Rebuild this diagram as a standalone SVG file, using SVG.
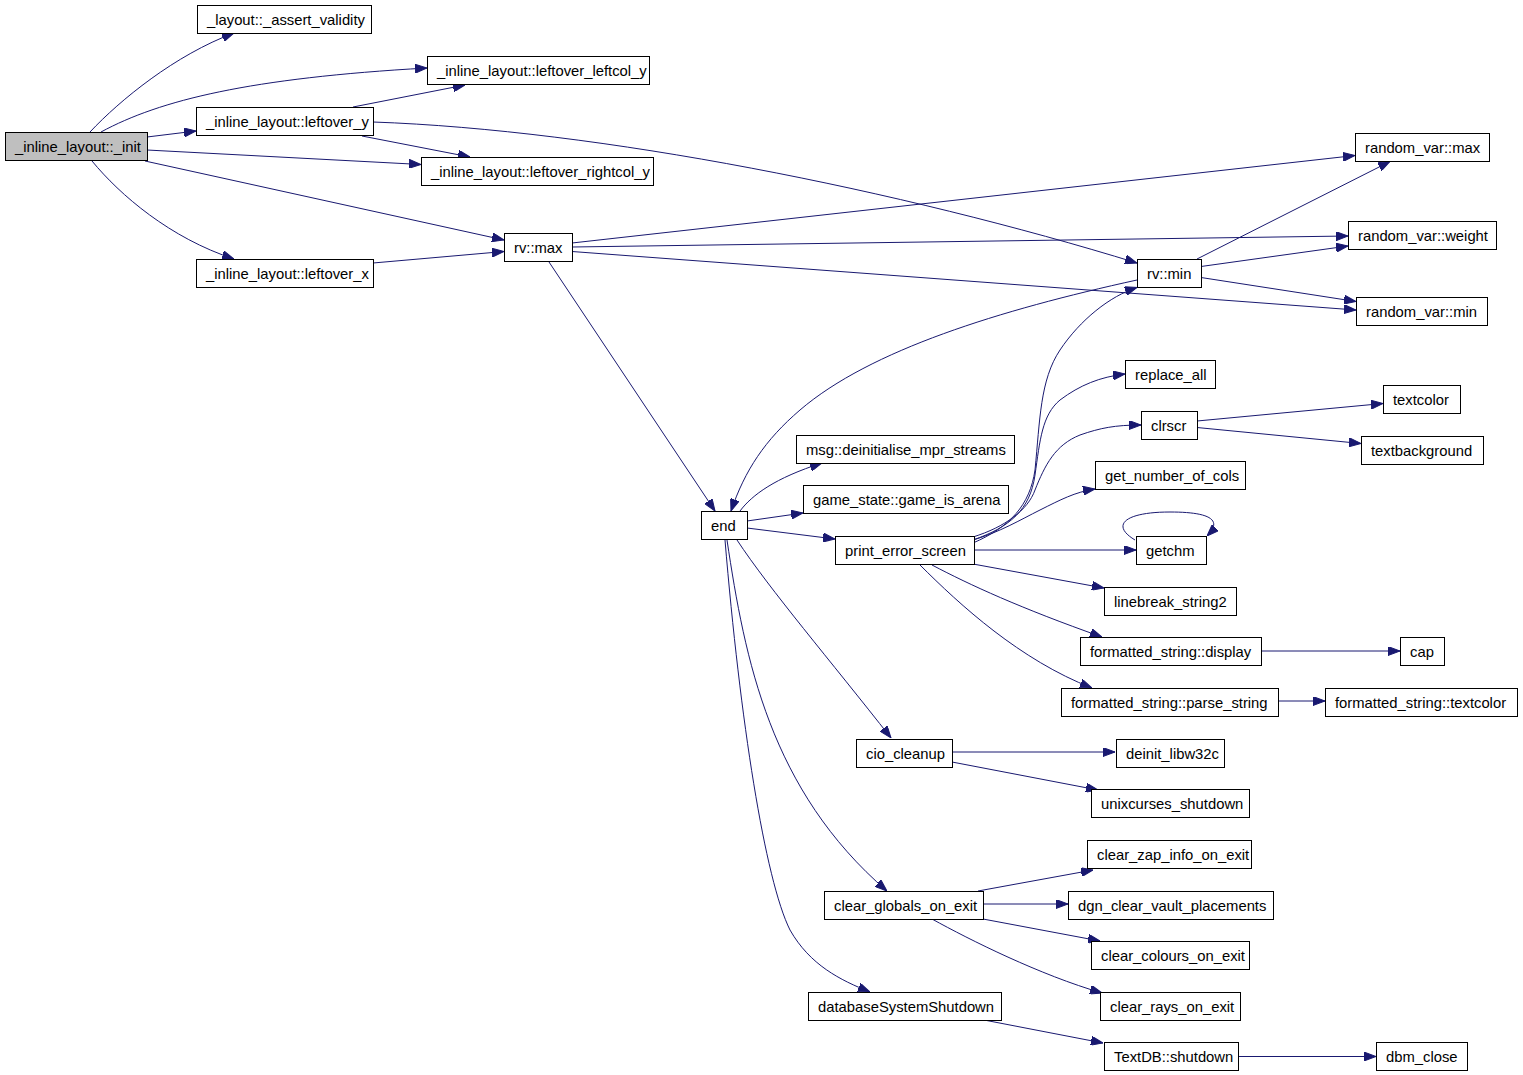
<svg xmlns="http://www.w3.org/2000/svg" width="1523" height="1075" viewBox="0 0 1523 1075">
<style>
.n rect{fill:#ffffff;stroke:#000000;stroke-width:1}
.n text{font-family:"Liberation Sans",Arial,sans-serif;font-size:14.8px;fill:#000000}
#n_init rect{fill:#bfbfbf}
.e path{fill:none;stroke:#191970;stroke-width:1;marker-end:url(#ah)}
</style>
<defs>
<marker id="ah" markerWidth="12" markerHeight="9" refX="12" refY="4.5" orient="auto" markerUnits="userSpaceOnUse">
<path d="M0,0 L12,4.5 L0,9 z" fill="#191970" stroke="#191970" stroke-width="1"/>
</marker>
</defs>
<rect width="1523" height="1075" fill="#ffffff"/>
<g id="edges" class="e">
<path d="M90,132 C120,100 175,55 234,33"/>
<path d="M101,132 C160,100 250,78 427,68"/>
<path d="M147,137 L196,131"/>
<path d="M147,150 L421,164.5"/>
<path d="M145,161 L504,240"/>
<path d="M92,161 C120,195 170,238 234,259"/>
<path d="M353,107 L465,85"/>
<path d="M362,136 L470,157"/>
<path d="M373,122 C600,130 900,190 1137,263"/>
<path d="M373,263 L504,251.5"/>
<path d="M572,243 L1355,155.5"/>
<path d="M572,247 L1348,236"/>
<path d="M572,251.5 L1356,310"/>
<path d="M549,262 L715,511"/>
<path d="M1197,259 L1390,161.5"/>
<path d="M1201,266.5 L1348,246"/>
<path d="M1201,277.5 L1356,301.5"/>
<path d="M1137,280 C1000,310 870,350 800,410 C765,440 745,470 731,511"/>
<path d="M740,511 C752,495 775,478 822,463"/>
<path d="M747,521 L803,513"/>
<path d="M747,528 L835,539"/>
<path d="M973,543 C1010,527 1030,505 1035,470 C1040,420 1040,380 1060,350 C1080,320 1110,296 1137,287.5"/>
<path d="M973,540 C1010,527 1030,510 1035,475 C1040,440 1042,415 1060,400 C1080,385 1100,377 1125,374"/>
<path d="M973,537 C1005,527 1028,510 1035,490 C1045,465 1055,445 1080,435 C1100,428 1115,425 1141,425"/>
<path d="M973,540 C1000,532 1020,520 1040,510 C1060,500 1075,492 1095,489"/>
<path d="M973,550 L1136,550"/>
<path d="M1135,540 C1110,525 1125,512 1170,512 C1205,512 1225,518 1207,536"/>
<path d="M973,564 L1104,588"/>
<path d="M932,565 C970,585 1020,608 1102,637"/>
<path d="M920,565 C960,605 1020,660 1092,688"/>
<path d="M1260,651 L1400,651"/>
<path d="M1277,701 L1325,701"/>
<path d="M1197,421 L1383,403.5"/>
<path d="M1197,427.5 L1361,443.5"/>
<path d="M737,540 C770,590 830,660 891,738"/>
<path d="M727,540 C745,660 770,790 887,891"/>
<path d="M725,540 C740,720 765,880 790,930 C810,965 840,980 870,992"/>
<path d="M952,752 L1115,752"/>
<path d="M952,762 L1098,790"/>
<path d="M978,891 L1093,870"/>
<path d="M983,904 L1068,904"/>
<path d="M983,919 L1100,941"/>
<path d="M932,919 C970,940 1040,975 1102,993"/>
<path d="M984,1020 L1103,1043"/>
<path d="M1237,1056.5 L1376,1056.5"/>
</g>
<g id="n_init" class="n"><rect x="5.5" y="132.5" width="142" height="28"/><text x="15" y="152">_inline_layout::_init</text></g>
<g id="n_assert" class="n"><rect x="197.5" y="5.5" width="174" height="28"/><text x="207" y="25">_layout::_assert_validity</text></g>
<g id="n_leftcol" class="n"><rect x="427.5" y="56.5" width="222" height="28"/><text x="437" y="76">_inline_layout::leftover_leftcol_y</text></g>
<g id="n_lefty" class="n"><rect x="196.5" y="107.5" width="177" height="28"/><text x="206" y="127">_inline_layout::leftover_y</text></g>
<g id="n_rightcol" class="n"><rect x="421.5" y="157.5" width="232" height="28"/><text x="431" y="177">_inline_layout::leftover_rightcol_y</text></g>
<g id="n_leftx" class="n"><rect x="196.5" y="259.5" width="177" height="28"/><text x="206" y="279">_inline_layout::leftover_x</text></g>
<g id="n_rvmax" class="n"><rect x="504.5" y="233.5" width="68" height="28"/><text x="514" y="253">rv::max</text></g>
<g id="n_rvarmax" class="n"><rect x="1355.5" y="133.5" width="134" height="28"/><text x="1365" y="153">random_var::max</text></g>
<g id="n_rvarweight" class="n"><rect x="1348.5" y="221.5" width="148" height="28"/><text x="1358" y="241">random_var::weight</text></g>
<g id="n_rvmin" class="n"><rect x="1137.5" y="259.5" width="64" height="28"/><text x="1147" y="279">rv::min</text></g>
<g id="n_rvarmin" class="n"><rect x="1356.5" y="297.5" width="131" height="28"/><text x="1366" y="317">random_var::min</text></g>
<g id="n_replace" class="n"><rect x="1125.5" y="360.5" width="90" height="28"/><text x="1135" y="380">replace_all</text></g>
<g id="n_textcolor" class="n"><rect x="1383.5" y="385.5" width="77" height="28"/><text x="1393" y="405">textcolor</text></g>
<g id="n_clrscr" class="n"><rect x="1141.5" y="411.5" width="56" height="28"/><text x="1151" y="431">clrscr</text></g>
<g id="n_textbg" class="n"><rect x="1361.5" y="436.5" width="122" height="28"/><text x="1371" y="456">textbackground</text></g>
<g id="n_msg" class="n"><rect x="796.5" y="435.5" width="218" height="28"/><text x="806" y="455">msg::deinitialise_mpr_streams</text></g>
<g id="n_getcols" class="n"><rect x="1095.5" y="461.5" width="150" height="28"/><text x="1105" y="481">get_number_of_cols</text></g>
<g id="n_arena" class="n"><rect x="803.5" y="485.5" width="205" height="28"/><text x="813" y="505">game_state::game_is_arena</text></g>
<g id="n_end" class="n"><rect x="701.5" y="511.5" width="46" height="28"/><text x="711" y="531">end</text></g>
<g id="n_pes" class="n"><rect x="835.5" y="536.5" width="139" height="28"/><text x="845" y="556">print_error_screen</text></g>
<g id="n_getchm" class="n"><rect x="1136.5" y="536.5" width="70" height="28"/><text x="1146" y="556">getchm</text></g>
<g id="n_linebreak" class="n"><rect x="1104.5" y="587.5" width="132" height="28"/><text x="1114" y="607">linebreak_string2</text></g>
<g id="n_display" class="n"><rect x="1080.5" y="637.5" width="181" height="28"/><text x="1090" y="657">formatted_string::display</text></g>
<g id="n_cap" class="n"><rect x="1400.5" y="637.5" width="44" height="28"/><text x="1410" y="657">cap</text></g>
<g id="n_parse" class="n"><rect x="1061.5" y="688.5" width="217" height="28"/><text x="1071" y="708">formatted_string::parse_string</text></g>
<g id="n_fstextcolor" class="n"><rect x="1325.5" y="688.5" width="192" height="28"/><text x="1335" y="708">formatted_string::textcolor</text></g>
<g id="n_cio" class="n"><rect x="856.5" y="739.5" width="96" height="28"/><text x="866" y="759">cio_cleanup</text></g>
<g id="n_deinit" class="n"><rect x="1116.5" y="739.5" width="108" height="28"/><text x="1126" y="759">deinit_libw32c</text></g>
<g id="n_unix" class="n"><rect x="1091.5" y="789.5" width="158" height="28"/><text x="1101" y="809">unixcurses_shutdown</text></g>
<g id="n_zap" class="n"><rect x="1087.5" y="840.5" width="164" height="28"/><text x="1097" y="860">clear_zap_info_on_exit</text></g>
<g id="n_globals" class="n"><rect x="824.5" y="891.5" width="159" height="28"/><text x="834" y="911">clear_globals_on_exit</text></g>
<g id="n_dgn" class="n"><rect x="1068.5" y="891.5" width="205" height="28"/><text x="1078" y="911">dgn_clear_vault_placements</text></g>
<g id="n_colours" class="n"><rect x="1091.5" y="941.5" width="158" height="28"/><text x="1101" y="961">clear_colours_on_exit</text></g>
<g id="n_dbss" class="n"><rect x="808.5" y="992.5" width="193" height="28"/><text x="818" y="1012">databaseSystemShutdown</text></g>
<g id="n_rays" class="n"><rect x="1100.5" y="992.5" width="140" height="28"/><text x="1110" y="1012">clear_rays_on_exit</text></g>
<g id="n_textdb" class="n"><rect x="1104.5" y="1042.5" width="134" height="28"/><text x="1114" y="1062">TextDB::shutdown</text></g>
<g id="n_dbm" class="n"><rect x="1376.5" y="1042.5" width="91" height="28"/><text x="1386" y="1062">dbm_close</text></g>
</svg>
